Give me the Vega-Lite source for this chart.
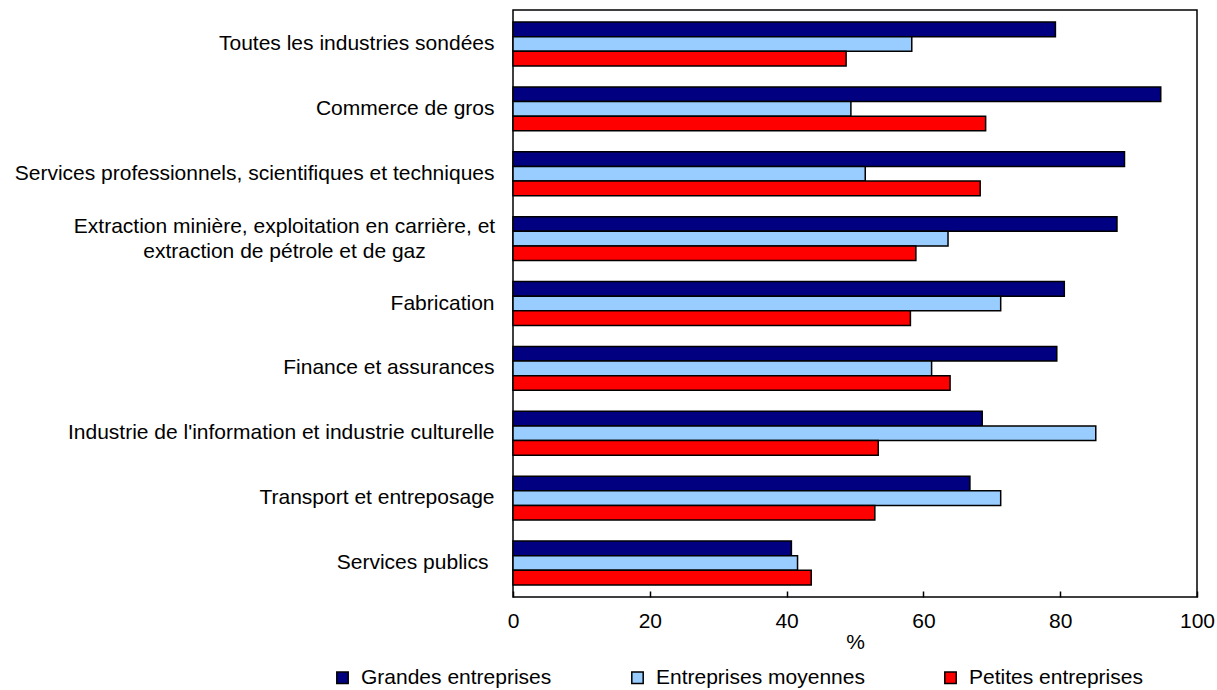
{
  "$schema": "https://vega.github.io/schema/vega-lite/v6.json",
  "autosize": {"type": "none"},
  "padding": {"left": 513, "top": 10, "right": 20, "bottom": 93},
  "width": 684,
  "height": 587,
  "background": "white",
  "config": {
    "font": "Liberation Sans",
    "view": {"stroke": "black", "strokeWidth": 1.5},
    "axis": {"labelFont": "Liberation Sans", "titleFont": "Liberation Sans", "labelColor": "black", "titleColor": "black"},
    "legend": {"labelFont": "Liberation Sans"}
  },
  "data": {
    "values": [
      {"industrie": "Toutes les industries sondées", "taille": "Grandes entreprises", "pct": 79.3},
      {"industrie": "Toutes les industries sondées", "taille": "Entreprises moyennes", "pct": 58.3},
      {"industrie": "Toutes les industries sondées", "taille": "Petites entreprises", "pct": 48.7},
      {"industrie": "Commerce de gros", "taille": "Grandes entreprises", "pct": 94.7},
      {"industrie": "Commerce de gros", "taille": "Entreprises moyennes", "pct": 49.4},
      {"industrie": "Commerce de gros", "taille": "Petites entreprises", "pct": 69.1},
      {"industrie": "Services professionnels, scientifiques et techniques", "taille": "Grandes entreprises", "pct": 89.4},
      {"industrie": "Services professionnels, scientifiques et techniques", "taille": "Entreprises moyennes", "pct": 51.5},
      {"industrie": "Services professionnels, scientifiques et techniques", "taille": "Petites entreprises", "pct": 68.3},
      {"industrie": "Extraction minière, exploitation en carrière, et extraction de pétrole et de gaz", "taille": "Grandes entreprises", "pct": 88.3},
      {"industrie": "Extraction minière, exploitation en carrière, et extraction de pétrole et de gaz", "taille": "Entreprises moyennes", "pct": 63.6},
      {"industrie": "Extraction minière, exploitation en carrière, et extraction de pétrole et de gaz", "taille": "Petites entreprises", "pct": 58.9},
      {"industrie": "Fabrication", "taille": "Grandes entreprises", "pct": 80.6},
      {"industrie": "Fabrication", "taille": "Entreprises moyennes", "pct": 71.3},
      {"industrie": "Fabrication", "taille": "Petites entreprises", "pct": 58.1},
      {"industrie": "Finance et assurances", "taille": "Grandes entreprises", "pct": 79.5},
      {"industrie": "Finance et assurances", "taille": "Entreprises moyennes", "pct": 61.2},
      {"industrie": "Finance et assurances", "taille": "Petites entreprises", "pct": 63.9},
      {"industrie": "Industrie de l'information et industrie culturelle", "taille": "Grandes entreprises", "pct": 68.6},
      {"industrie": "Industrie de l'information et industrie culturelle", "taille": "Entreprises moyennes", "pct": 85.2},
      {"industrie": "Industrie de l'information et industrie culturelle", "taille": "Petites entreprises", "pct": 53.4},
      {"industrie": "Transport et entreposage", "taille": "Grandes entreprises", "pct": 66.8},
      {"industrie": "Transport et entreposage", "taille": "Entreprises moyennes", "pct": 71.3},
      {"industrie": "Transport et entreposage", "taille": "Petites entreprises", "pct": 52.9},
      {"industrie": "Services publics", "taille": "Grandes entreprises", "pct": 40.7},
      {"industrie": "Services publics", "taille": "Entreprises moyennes", "pct": 41.6},
      {"industrie": "Services publics", "taille": "Petites entreprises", "pct": 43.6}
    ]
  },
  "mark": {"type": "bar", "stroke": "black", "strokeWidth": 1.5},
  "encoding": {
    "y": {
      "field": "industrie",
      "type": "nominal",
      "sort": null,
      "scale": {"paddingInner": 0.323, "paddingOuter": 0.185},
      "axis": {
        "title": null,
        "ticks": false,
        "domain": false,
        "labelFontSize": 21,
        "labelLimit": 600,
        "labelLineHeight": 25,
        "labelExpr": "indexof(datum.value, 'Extraction') == 0 ? ['Extraction minière, exploitation en carrière, et', 'extraction de pétrole et de gaz'] : datum.value",
        "labelAlign": {"condition": {"test": "indexof(datum.value, 'Extraction') == 0", "value": "center"}, "value": "right"},
        "labelOffset": {"condition": {"test": "indexof(datum.value, 'Extraction') == 0", "value": -12}, "value": 0},
        "labelPadding": {"condition": [{"test": "indexof(datum.value, 'Extraction') == 0", "value": 229}, {"test": "datum.value == 'Services publics'", "value": 25}], "value": 19}
      }
    },
    "yOffset": {
      "field": "taille",
      "type": "nominal",
      "sort": ["Grandes entreprises", "Entreprises moyennes", "Petites entreprises"],
      "scale": {"paddingInner": 0, "paddingOuter": 0}
    },
    "x": {
      "field": "pct",
      "type": "quantitative",
      "scale": {"domain": [0, 100], "nice": false},
      "axis": {
        "title": "%",
        "titleFontSize": 21,
        "titleFontWeight": "normal",
        "titlePadding": 0,
        "values": [0, 20, 40, 60, 80, 100],
        "grid": false,
        "domain": false,
        "tickColor": "black",
        "tickWidth": 1.5,
        "tickSize": -6,
        "labelFontSize": 21,
        "labelPadding": 19,
        "labelFlush": false
      }
    },
    "color": {
      "field": "taille",
      "type": "nominal",
      "sort": ["Grandes entreprises", "Entreprises moyennes", "Petites entreprises"],
      "scale": {
        "domain": ["Grandes entreprises", "Entreprises moyennes", "Petites entreprises"],
        "range": ["#000080", "#99CCFF", "#FF0000"]
      },
      "legend": {
        "title": null,
        "orient": "none",
        "direction": "horizontal",
        "legendX": -181,
        "legendY": 657,
        "symbolType": "square",
        "symbolSize": 130,
        "symbolStrokeColor": "black",
        "symbolStrokeWidth": 1.5,
        "labelFontSize": 21,
        "labelColor": "black",
        "labelOffset": 8,
        "columnPadding": 75,
        "labelLimit": 400
      }
    }
  }
}
